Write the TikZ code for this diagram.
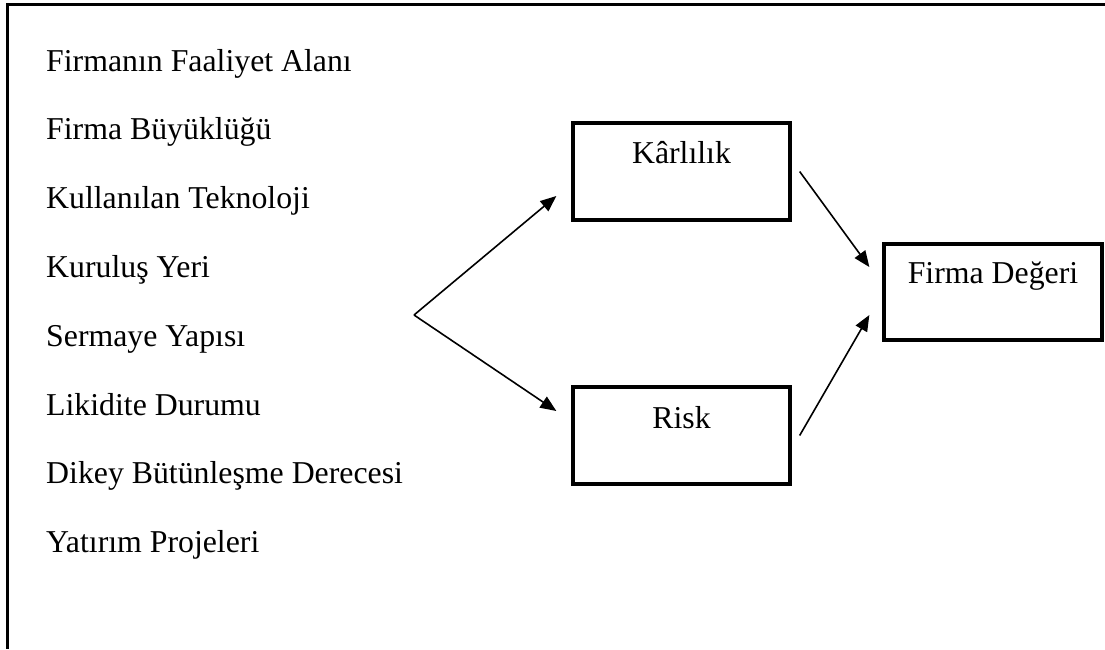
\documentclass[tikz,border=0pt]{standalone}
\usepackage{fontspec}
\setmainfont{Liberation Serif}
\usetikzlibrary{arrows.meta,calc}
\tikzset{
  factor/.style={anchor=base west,inner sep=0pt},
  boxnode/.style={draw,line width=3.3pt,minimum width=217pt,minimum height=97pt,inner sep=0pt},
  boxtext/.style={anchor=base,inner sep=0pt},
  arr/.style={line width=1.6pt,-{Triangle[length=16pt,width=13pt]}},
  frame/.style={line width=2.8pt}
}
\begin{document}
\begin{tikzpicture}[x=1pt,y=-1pt,font=\fontsize{31.8}{38}\selectfont]
\useasboundingbox (0,0) rectangle (1105,649);
\fill[white] (0,0) rectangle (1105,649);
% frame (top and left)
\coordinate (ftr) at (1105,4.5);
\coordinate (ftl) at (7.5,4.5);
\coordinate (fbl) at (7.5,649);
\draw[frame] (ftr) -- (ftl) -- (fbl);
% factors
\node[factor] (f1) at (46,71) {Firmanın Faaliyet Alanı};
\node[factor] (f2) at (46,139) {Firma Büyüklüğü};
\node[factor] (f3) at (46,208) {Kullanılan Teknoloji};
\node[factor] (f4) at (46,277) {Kuruluş Yeri};
\node[factor] (f5) at (46,346) {Sermaye Yapısı};
\node[factor] (f6) at (46,415) {Likidite Durumu};
\node[factor] (f7) at (46,483) {Dikey Bütünleşme Derecesi};
\node[factor] (f8) at (46,552) {Yatırım Projeleri};
% boxes
\node[boxnode] (kar) at (681.5,171.5) {};
\node[boxtext] (kart) at ($(kar.north)+(0,42)$) {Kârlılık};
\node[boxnode] (risk) at (681.5,435.5) {};
\node[boxtext] (riskt) at ($(risk.north)+(0,43)$) {Risk};
\node[boxnode,minimum width=218pt,minimum height=96pt] (firm) at (993,292) {};
\node[boxtext] (firmt) at ($(firm.north)+(0,41)$) {Firma Değeri};
% connectors
\coordinate (v) at (414,315);
\coordinate (k1) at ($(kar.west)+(-15,24.5)$);
\coordinate (r1) at ($(risk.west)+(-15,-24.5)$);
\coordinate (k2) at ($(kar.east)+(8,0)$);
\coordinate (r2) at ($(risk.east)+(8,0)$);
\coordinate (fk) at ($(firm.west)+(-13,-25)$);
\coordinate (fr) at ($(firm.west)+(-13,23)$);
\draw[arr] (v) -- (k1);
\draw[arr] (v) -- (r1);
\draw[arr] (k2) -- (fk);
\draw[arr] (r2) -- (fr);
\end{tikzpicture}
\end{document}
